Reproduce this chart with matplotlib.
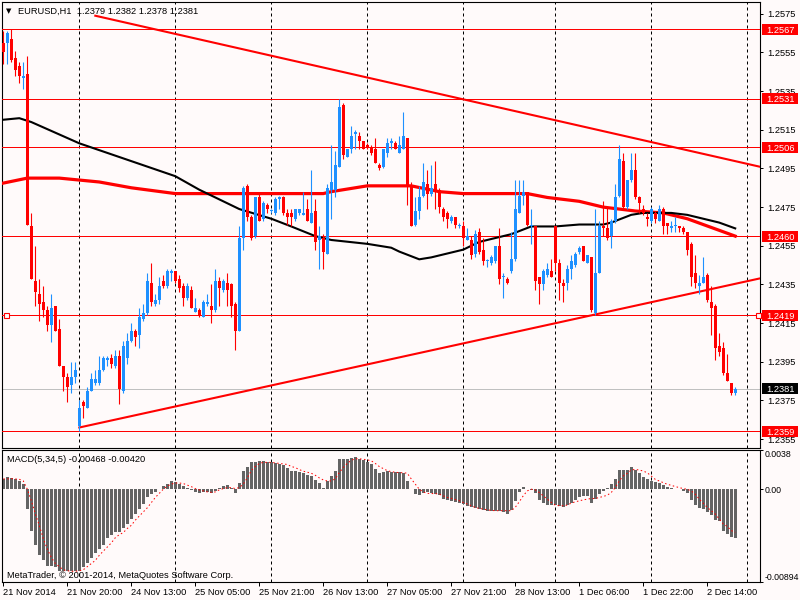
import matplotlib
matplotlib.use('Agg')
import matplotlib.pyplot as plt
import matplotlib.transforms as mtransforms
from matplotlib.patches import Rectangle
import numpy as np

plt.rcParams['font.family'] = ['Liberation Sans', 'DejaVu Sans']

# EURUSD H1 candles, 21 Nov 2014 04:00 .. 2 Dec 2014 15:00
opens = [
    1.2560, 1.2560, 1.2562, 1.2552, 1.2548, 1.2542, 1.2544, 1.2465, 1.2437, 1.2430,
    1.2426, 1.2422, 1.2414, 1.2424, 1.2412, 1.2393, 1.2387, 1.2383, 1.2387, 1.2362,
    1.2374, 1.2371, 1.2380, 1.2384, 1.2384, 1.2391, 1.2396, 1.2397, 1.2393, 1.2398,
    1.2380, 1.2397, 1.2406, 1.2411, 1.2409, 1.2417, 1.2420, 1.2436, 1.2425, 1.2427,
    1.2437, 1.2434, 1.2441, 1.2442, 1.2438, 1.2434, 1.2428, 1.2432, 1.2421, 1.2422,
    1.2418, 1.2425, 1.2424, 1.2422, 1.2437, 1.2432, 1.2436, 1.2435, 1.2425, 1.2411,
    1.2459, 1.2486, 1.2470, 1.2460, 1.2480, 1.2469, 1.2476, 1.2473, 1.2472, 1.2479,
    1.2480, 1.2472, 1.2472, 1.2469, 1.2472, 1.2471, 1.2474, 1.2467, 1.2473, 1.2458,
    1.2459, 1.2451, 1.2484, 1.2484, 1.2496, 1.2528, 1.2501, 1.2505, 1.2513, 1.2512,
    1.2509, 1.2507, 1.2506, 1.2505, 1.2497, 1.2496, 1.2503, 1.2508, 1.2508, 1.2503,
    1.2505, 1.2511, 1.2486, 1.2466, 1.2473, 1.2481, 1.2487, 1.2482, 1.2487, 1.2484,
    1.2474, 1.2472, 1.2468, 1.2470, 1.2465, 1.2465, 1.2458, 1.2458, 1.2451, 1.2462,
    1.2453, 1.2447, 1.2446, 1.2447, 1.2455, 1.2439, 1.2438, 1.2442, 1.2448, 1.2472,
    1.2481, 1.2483, 1.2465, 1.2465, 1.2439, 1.2435, 1.2440, 1.2442, 1.2465, 1.2446,
    1.2436, 1.2436, 1.2443, 1.2445, 1.2452, 1.2455, 1.2446, 1.2449, 1.2420, 1.2441,
    1.2465, 1.2464, 1.2460, 1.2468, 1.2481, 1.2499, 1.2475, 1.2489, 1.2494, 1.2480,
    1.2474, 1.2470, 1.2468, 1.2472, 1.2468, 1.2474, 1.2467, 1.2464, 1.2465, 1.2465,
    1.2464, 1.2462, 1.2456, 1.2441, 1.2434, 1.2436, 1.2440, 1.2426, 1.2424, 1.2403,
    1.2402, 1.2389, 1.2384, 1.2379,
]
highs = [
    1.2566, 1.2566, 1.2567, 1.2556, 1.2550, 1.2550, 1.2553, 1.2472, 1.2455, 1.2438,
    1.2434, 1.2424, 1.2430, 1.2424, 1.2417, 1.2393, 1.2389, 1.2395, 1.2395, 1.2375,
    1.2375, 1.2382, 1.2389, 1.2391, 1.2398, 1.2398, 1.2398, 1.2399, 1.2401, 1.2401,
    1.2406, 1.2410, 1.2415, 1.2412, 1.2423, 1.2425, 1.2441, 1.2446, 1.2430, 1.2439,
    1.2440, 1.2443, 1.2443, 1.2442, 1.2440, 1.2436, 1.2436, 1.2434, 1.2428, 1.2423,
    1.2427, 1.2430, 1.2435, 1.2443, 1.2439, 1.2438, 1.2441, 1.2436, 1.2426, 1.2465,
    1.2486, 1.2487, 1.2471, 1.2480, 1.2483, 1.2478, 1.2477, 1.2474, 1.2480, 1.2481,
    1.2481, 1.2474, 1.2474, 1.2474, 1.2474, 1.2483, 1.2479, 1.2494, 1.2479, 1.2465,
    1.2461, 1.2487, 1.2507, 1.2504, 1.2531, 1.2529, 1.2505, 1.2517, 1.2515, 1.2514,
    1.2509, 1.2508, 1.2507, 1.2511, 1.2498, 1.2505, 1.2511, 1.2511, 1.2509, 1.2512,
    1.2524, 1.2511, 1.2488, 1.2480, 1.2486, 1.2498, 1.2494, 1.2497, 1.2499, 1.2485,
    1.2475, 1.2473, 1.2471, 1.2470, 1.2467, 1.2468, 1.2464, 1.2460, 1.2463, 1.2464,
    1.2459, 1.2448, 1.2450, 1.2455, 1.2464, 1.2441, 1.2439, 1.2462, 1.2489, 1.2489,
    1.2489, 1.2483, 1.2474, 1.2465, 1.2439, 1.2443, 1.2446, 1.2448, 1.2465, 1.2448,
    1.2438, 1.2445, 1.2450, 1.2452, 1.2455, 1.2455, 1.2450, 1.2449, 1.2474, 1.2468,
    1.2478, 1.2475, 1.2469, 1.2487, 1.2507, 1.2503, 1.2489, 1.2503, 1.2503, 1.2481,
    1.2476, 1.2472, 1.2475, 1.2473, 1.2476, 1.2475, 1.2467, 1.2468, 1.2470, 1.2465,
    1.2465, 1.2462, 1.2457, 1.2450, 1.2440, 1.2449, 1.2441, 1.2434, 1.2425, 1.2410,
    1.2405, 1.2399, 1.2384, 1.2382,
]
lows = [
    1.2549, 1.2549, 1.2550, 1.2543, 1.2539, 1.2536, 1.2466, 1.2438, 1.2424, 1.2416,
    1.2418, 1.2411, 1.2405, 1.2411, 1.2393, 1.2380, 1.2374, 1.2379, 1.2384, 1.2359,
    1.2366, 1.2371, 1.2380, 1.2383, 1.2383, 1.2390, 1.2393, 1.2392, 1.2392, 1.2373,
    1.2379, 1.2394, 1.2405, 1.2403, 1.2402, 1.2416, 1.2419, 1.2424, 1.2424, 1.2425,
    1.2433, 1.2433, 1.2437, 1.2436, 1.2431, 1.2424, 1.2427, 1.2423, 1.2421, 1.2418,
    1.2418, 1.2424, 1.2415, 1.2421, 1.2424, 1.2431, 1.2424, 1.2418, 1.2401, 1.2411,
    1.2453, 1.2468, 1.2458, 1.2459, 1.2468, 1.2468, 1.2472, 1.2472, 1.2471, 1.2474,
    1.2471, 1.2466, 1.2465, 1.2468, 1.2471, 1.2471, 1.2468, 1.2467, 1.2453, 1.2443,
    1.2443, 1.2451, 1.2469, 1.2480, 1.2496, 1.2500, 1.2501, 1.2503, 1.2505, 1.2505,
    1.2505, 1.2505, 1.2502, 1.2498, 1.2494, 1.2495, 1.2501, 1.2505, 1.2505, 1.2503,
    1.2505, 1.2476, 1.2465, 1.2465, 1.2469, 1.2480, 1.2474, 1.2481, 1.2474, 1.2472,
    1.2468, 1.2464, 1.2467, 1.2464, 1.2464, 1.2455, 1.2458, 1.2448, 1.2449, 1.2451,
    1.2445, 1.2444, 1.2445, 1.2446, 1.2435, 1.2428, 1.2435, 1.2441, 1.2447, 1.2472,
    1.2476, 1.2465, 1.2456, 1.2432, 1.2425, 1.2432, 1.2439, 1.2439, 1.2442, 1.2427,
    1.2426, 1.2432, 1.2438, 1.2444, 1.2451, 1.2447, 1.2446, 1.2421, 1.2419, 1.2441,
    1.2460, 1.2458, 1.2454, 1.2467, 1.2480, 1.2474, 1.2474, 1.2488, 1.2479, 1.2472,
    1.2471, 1.2465, 1.2467, 1.2467, 1.2468, 1.2461, 1.2461, 1.2462, 1.2462, 1.2462,
    1.2461, 1.2450, 1.2434, 1.2433, 1.2430, 1.2436, 1.2426, 1.2409, 1.2396, 1.2398,
    1.2388, 1.2385, 1.2378, 1.2378,
]
closes = [
    1.2555, 1.2565, 1.2551, 1.2546, 1.2543, 1.2543, 1.2466, 1.2438, 1.2431, 1.2425,
    1.2422, 1.2414, 1.2423, 1.2411, 1.2393, 1.2387, 1.2382, 1.2387, 1.2391, 1.2371,
    1.2372, 1.2380, 1.2386, 1.2386, 1.2391, 1.2397, 1.2397, 1.2394, 1.2398, 1.2381,
    1.2403, 1.2406, 1.2411, 1.2408, 1.2418, 1.2420, 1.2437, 1.2426, 1.2427, 1.2434,
    1.2434, 1.2442, 1.2442, 1.2437, 1.2433, 1.2428, 1.2434, 1.2423, 1.2423, 1.2419,
    1.2426, 1.2426, 1.2422, 1.2437, 1.2433, 1.2437, 1.2432, 1.2424, 1.2411, 1.2459,
    1.2485, 1.2470, 1.2459, 1.2480, 1.2468, 1.2477, 1.2474, 1.2473, 1.2479, 1.2480,
    1.2472, 1.2470, 1.2470, 1.2474, 1.2474, 1.2472, 1.2468, 1.2472, 1.2457, 1.2460,
    1.2452, 1.2485, 1.2488, 1.2497, 1.2527, 1.2502, 1.2505, 1.2512, 1.2514, 1.2509,
    1.2505, 1.2506, 1.2503, 1.2498, 1.2495, 1.2505, 1.2508, 1.2509, 1.2505, 1.2507,
    1.2512, 1.2486, 1.2465, 1.2473, 1.2480, 1.2488, 1.2482, 1.2485, 1.2484, 1.2475,
    1.2470, 1.2469, 1.2470, 1.2466, 1.2466, 1.2459, 1.2460, 1.2450, 1.2461, 1.2452,
    1.2447, 1.2447, 1.2449, 1.2455, 1.2438, 1.2439, 1.2436, 1.2448, 1.2474, 1.2481,
    1.2483, 1.2466, 1.2466, 1.2437, 1.2435, 1.2442, 1.2443, 1.2439, 1.2446, 1.2436,
    1.2434, 1.2443, 1.2447, 1.2451, 1.2454, 1.2447, 1.2450, 1.2422, 1.2441, 1.2465,
    1.2464, 1.2459, 1.2468, 1.2480, 1.2500, 1.2475, 1.2489, 1.2494, 1.2480, 1.2477,
    1.2472, 1.2469, 1.2474, 1.2469, 1.2474, 1.2465, 1.2465, 1.2465, 1.2465, 1.2464,
    1.2462, 1.2453, 1.2439, 1.2436, 1.2436, 1.2439, 1.2427, 1.2423, 1.2402, 1.2400,
    1.2389, 1.2385, 1.2379, 1.2381,
]

# moving averages (sampled at candle index)
red_ma_x = [-1, 6, 14, 19, 24, 32, 43, 49, 55, 67, 80, 82, 85, 91, 97, 102, 109, 115,
            126, 131, 136, 140, 144, 150, 158, 165, 171, 175, 179, 183]
red_ma_y = [1.2487, 1.2490, 1.2490, 1.2489, 1.2488, 1.2485, 1.2482, 1.2482, 1.2482, 1.2482,
            1.2482, 1.2483, 1.2484, 1.2486, 1.2486, 1.2486, 1.2483, 1.2482, 1.2482, 1.2482,
            1.2480, 1.2479, 1.2478, 1.2475, 1.2473, 1.2472, 1.2469, 1.2466, 1.2463, 1.2460]
black_ma_x = [-1, 4, 7, 19, 43, 49, 59, 67, 72, 78, 82, 91, 97, 99, 104, 107, 115, 119,
              123, 127, 132, 138, 144, 150, 152, 157, 160, 167, 171, 175, 179, 183]
black_ma_y = [1.2520, 1.2521, 1.2519, 1.2508, 1.2491, 1.2484, 1.2474, 1.2469, 1.2465, 1.2460,
              1.2458, 1.2456, 1.2454, 1.2452, 1.2448, 1.2449, 1.2453, 1.2457, 1.2459, 1.2461,
              1.2465, 1.2465, 1.2466, 1.2466, 1.2467, 1.2471, 1.2472, 1.2472, 1.2471, 1.2469,
              1.2467, 1.2464]

# trend lines (index, price)
upper_tl_x = [23, 190]
upper_tl_y = [1.2574, 1.24955]
lower_tl_x = [19, 190]
lower_tl_y = [1.2361, 1.24385]

level_lines = [1.2567, 1.2531, 1.2506, 1.2460, 1.2419, 1.2359]
bid = 1.2381
price_ticks = [1.2575, 1.2555, 1.2535, 1.2515, 1.2495, 1.2475,
               1.2455, 1.2435, 1.2415, 1.2395, 1.2375, 1.2355]

# MACD(5,34,5) histogram and signal
macd_hist = [
    0.00103, 0.00122, 0.00112, 0.00103, 0.00080, 0.00048, -0.00192, -0.00400, -0.00545, -0.00640,
    -0.00690, -0.00740, -0.00740, -0.00750, -0.00790, -0.00790, -0.00795, -0.00795, -0.00790, -0.00790,
    -0.00750, -0.00710, -0.00670, -0.00620, -0.00580, -0.00540, -0.00470, -0.00440, -0.00410, -0.00410,
    -0.00380, -0.00340, -0.00290, -0.00240, -0.00190, -0.00140, -0.00080, -0.00050, -0.00030, 0.00005,
    0.00030, 0.00050, 0.00080, 0.00070, 0.00050, 0.00030, 0.00016, -0.00006, -0.00026, -0.00040,
    -0.00030, -0.00030, -0.00040, -0.00016, 0.00016, 0.00030, 0.00040, 0.00016, -0.00040, 0.00060,
    0.00180, 0.00220, 0.00260, 0.00260, 0.00270, 0.00270, 0.00260, 0.00260, 0.00250, 0.00240,
    0.00230, 0.00210, 0.00180, 0.00180, 0.00170, 0.00160, 0.00140, 0.00130, 0.00090, 0.00060,
    0.00010, 0.00080, 0.00130, 0.00180, 0.00290, 0.00290, 0.00290, 0.00300, 0.00310, 0.00290,
    0.00280, 0.00260, 0.00240, 0.00200, 0.00160, 0.00170, 0.00180, 0.00170, 0.00170, 0.00165,
    0.00160, 0.00080, 0.00000, -0.00050, -0.00060, -0.00040, -0.00030, -0.00040, -0.00050, -0.00060,
    -0.00090, -0.00100, -0.00110, -0.00120, -0.00130, -0.00140, -0.00160, -0.00170, -0.00180, -0.00190,
    -0.00200, -0.00210, -0.00210, -0.00210, -0.00210, -0.00220, -0.00240, -0.00200, -0.00110, -0.00030,
    0.00020, 0.00006, -0.00006, -0.00040, -0.00100, -0.00130, -0.00150, -0.00150, -0.00150, -0.00160,
    -0.00170, -0.00150, -0.00130, -0.00100, -0.00080, -0.00070, -0.00070, -0.00130, -0.00090, -0.00050,
    -0.00016, 0.00016, 0.00050, 0.00100, 0.00190, 0.00190, 0.00190, 0.00220, 0.00190, 0.00160,
    0.00120, 0.00100, 0.00080, 0.00070, 0.00060, 0.00040, 0.00026, 0.00016, 0.00006, 0.00000,
    -0.00016, -0.00040, -0.00100, -0.00150, -0.00180, -0.00190, -0.00220, -0.00250, -0.00300, -0.00310,
    -0.00400, -0.00430, -0.00465, -0.00468,
]
macd_signal = [
    0.00100, 0.00100, 0.00103, 0.00100, 0.00096, 0.00080, 0.00000, -0.00110, -0.00240, -0.00350,
    -0.00480, -0.00580, -0.00660, -0.00720, -0.00750, -0.00780, -0.00790, -0.00795, -0.00795, -0.00790,
    -0.00780, -0.00750, -0.00720, -0.00690, -0.00640, -0.00600, -0.00560, -0.00520, -0.00470, -0.00440,
    -0.00420, -0.00380, -0.00350, -0.00300, -0.00260, -0.00220, -0.00180, -0.00130, -0.00080, -0.00040,
    0.00000, 0.00030, 0.00050, 0.00060, 0.00060, 0.00055, 0.00040, 0.00025, 0.00006, -0.00006,
    -0.00016, -0.00026, -0.00030, -0.00026, -0.00006, 0.00006, 0.00016, 0.00016, 0.00006, 0.00016,
    0.00050, 0.00110, 0.00180, 0.00220, 0.00250, 0.00260, 0.00260, 0.00260, 0.00255, 0.00250,
    0.00245, 0.00240, 0.00220, 0.00210, 0.00190, 0.00175, 0.00165, 0.00155, 0.00135, 0.00110,
    0.00090, 0.00080, 0.00080, 0.00100, 0.00160, 0.00210, 0.00250, 0.00280, 0.00295, 0.00295,
    0.00290, 0.00285, 0.00275, 0.00250, 0.00220, 0.00200, 0.00180, 0.00170, 0.00165, 0.00160,
    0.00160, 0.00155, 0.00100, 0.00050, 0.00000, -0.00026, -0.00040, -0.00042, -0.00042, -0.00048,
    -0.00064, -0.00080, -0.00090, -0.00100, -0.00112, -0.00128, -0.00144, -0.00160, -0.00176, -0.00186,
    -0.00192, -0.00200, -0.00205, -0.00208, -0.00208, -0.00208, -0.00208, -0.00208, -0.00176, -0.00122,
    -0.00064, -0.00016, 0.00000, -0.00006, -0.00032, -0.00064, -0.00096, -0.00128, -0.00154, -0.00160,
    -0.00160, -0.00154, -0.00135, -0.00122, -0.00112, -0.00103, -0.00096, -0.00090, -0.00090, -0.00080,
    -0.00070, -0.00058, -0.00032, 0.00016, 0.00080, 0.00128, 0.00154, 0.00186, 0.00192, 0.00186,
    0.00176, 0.00160, 0.00128, 0.00096, 0.00080, 0.00064, 0.00048, 0.00038, 0.00026, 0.00016,
    0.00006, 0.00000, -0.00016, -0.00048, -0.00096, -0.00135, -0.00176, -0.00208, -0.00240, -0.00288,
    -0.00336, -0.00360, -0.00400, -0.00420,
]
macd_ticks = [0.0038, 0.0, -0.00894]
macd_tick_labels = ['0.0038', '0.00', '-0.00894']

# time axis: label every 16 bars, day separators
time_idx = [0, 16, 32, 48, 64, 80, 96, 112, 128, 144, 160, 176]
time_labels = ['21 Nov 2014', '21 Nov 20:00', '24 Nov 13:00', '25 Nov 05:00',
               '25 Nov 21:00', '26 Nov 13:00', '27 Nov 05:00', '27 Nov 21:00',
               '28 Nov 13:00', '1 Dec 06:00', '1 Dec 22:00', '2 Dec 14:00']
day_idx = [19, 43, 67, 91, 115, 138, 162, 186]

BG = '#fffafa'
BULL = '#1e90ff'
BEAR = '#ff0000'
FS = 6.7
W, H = 800, 600

fig = plt.figure(figsize=(8, 6), dpi=100, facecolor=BG)


def px_axes(x0, y0, x1, y1):
    return fig.add_axes([x0 / W, 1 - y1 / H, (x1 - x0) / W, (y1 - y0) / H])


ax = px_axes(2, 2, 760, 448)
ax2 = px_axes(2, 450, 760, 581.5)

for a in (ax, ax2):
    a.set_facecolor(BG)
    for s in a.spines.values():
        s.set_linewidth(0.8)
        s.set_color('black')
    a.set_xlim(-0.33, 189.2)
    for d in day_idx:
        a.axvline(d, color='black', lw=0.72, ls=(0, (3, 3)), zorder=1)

ax.set_ylim(1.23504, 1.25811)
ax2.set_ylim(-0.00894, 0.0038)

# levels, bid, trend lines, moving averages (drawn under the candles)
for lv in level_lines:
    ax.axhline(lv, color='red', lw=0.72, zorder=3)
ax.axhline(bid, color='#c0c0c0', lw=0.72, zorder=2)
ax.plot(upper_tl_x, upper_tl_y, color='red', lw=1.5, zorder=3)
ax.plot(lower_tl_x, lower_tl_y, color='red', lw=1.5, zorder=3)
ax.plot(red_ma_x, red_ma_y, color='red', lw=2.3, zorder=4, solid_joinstyle='round')
ax.plot(black_ma_x, black_ma_y, color='black', lw=1.5, zorder=4)

# candles on the foreground
idx = np.arange(len(opens))
o = np.array(opens)
h = np.array(highs)
l = np.array(lows)
c = np.array(closes)
col = np.where(c >= o, BULL, BEAR)
ax.vlines(idx, l, h, colors=col, lw=0.8, zorder=7)
body = np.maximum(np.abs(c - o), 0.00005)
ax.bar(idx, body, bottom=np.minimum(o, c), width=0.75, color=col, lw=0, zorder=7)

# selected-line handles on 1.2419
tr = mtransforms.blended_transform_factory(ax.transAxes, ax.transData)
ax.plot([3.5 / 758, 755.5 / 758], [1.2419, 1.2419], transform=tr, ls='none', marker='s',
        ms=3.6, mfc=BG, mec='red', mew=0.8, clip_on=False, zorder=8)

# price axis
ax.yaxis.tick_right()
ax.set_yticks(price_ticks)
ax.set_yticklabels([f'{v:.4f}' for v in price_ticks])
ax.tick_params(axis='y', direction='out', length=2, width=0.72, pad=3, labelsize=FS)
ax.tick_params(axis='x', bottom=False, labelbottom=False)

unit_px = 446 / (1.25811 - 1.23504)
bh = 11 / unit_px
bx0 = 1 + 1.7 / 758
bw = 36.6 / 758
for lv, fc in [(v, 'red') for v in level_lines] + [(bid, 'black')]:
    ax.add_patch(Rectangle((bx0, lv - bh / 2), bw, bh, transform=tr, fc=fc, ec='none',
                           clip_on=False, zorder=10))
    ax.text(bx0 + bw / 2, lv, f'{lv:.4f}', transform=tr, ha='center', va='center_baseline',
            color='white', fontsize=FS, clip_on=False, zorder=11)

# MACD panel
ax2.bar(idx, macd_hist, width=0.75, color='#646464', lw=0, zorder=2)
ax2.plot(idx, macd_signal, color='red', lw=0.72, ls=(0, (1.5, 2.5)), zorder=3)
ax2.yaxis.tick_right()
ax2.set_yticks(macd_ticks)
ax2.set_yticklabels(macd_tick_labels)
ax2.tick_params(axis='y', direction='out', length=2, width=0.72, pad=1, labelsize=6.3)
ylab = ax2.get_yticklabels()
ylab[0].set_va('top')
ylab[-1].set_va('bottom')

ax2.set_xticks(time_idx)
ax2.set_xticklabels(time_labels, ha='left')
ax2.tick_params(axis='x', direction='out', length=3, width=0.72, pad=1.5, labelsize=FS)

# header texts
fig.text(6 / W, 1 - 11 / H, '\u25bc', fontsize=5, va='center', ha='left', family='DejaVu Sans')
fig.text(18 / W, 1 - 11 / H,
         f'EURUSD,H1  {opens[-1]:.4f} {highs[-1]:.4f} {lows[-1]:.4f} {closes[-1]:.4f}',
         fontsize=FS, va='center', ha='left')
fig.text(7 / W, 1 - 459.5 / H,
         f'MACD(5,34,5) {macd_hist[-1]:.5f} {macd_signal[-1]:.5f}',
         fontsize=FS, va='center', ha='left')
fig.text(7 / W, 1 - 575 / H, 'MetaTrader, \u00a9 2001-2014, MetaQuotes Software Corp.',
         fontsize=FS, va='center', ha='left')

fig.savefig('out.png', dpi=100, facecolor=BG)
